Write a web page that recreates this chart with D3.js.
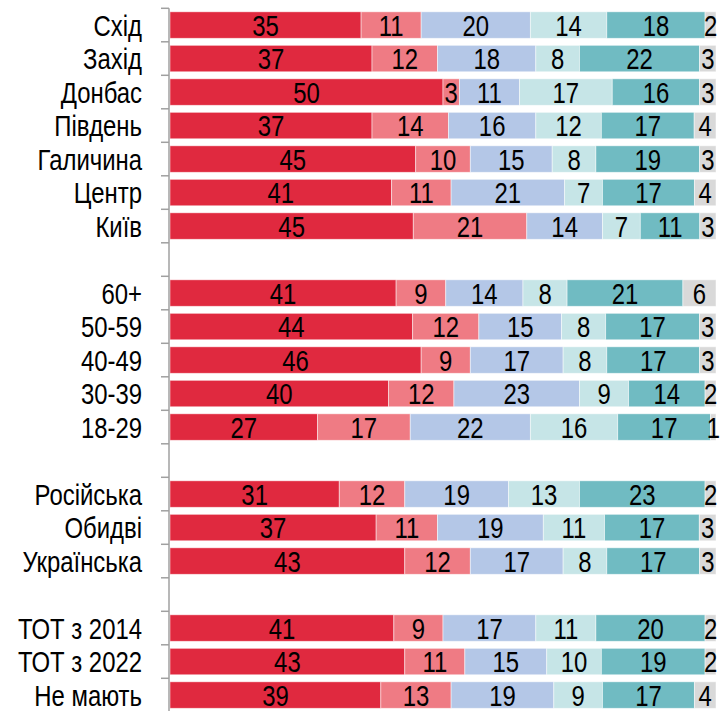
<!DOCTYPE html>
<html>
<head>
<meta charset="utf-8">
<script src="https://cdn.jsdelivr.net/npm/d3@7"></script>
<style>
  html, body { margin: 0; padding: 0; background: #fff; }
  svg { display: block; }
  text { font-family: "Liberation Sans", Arial, sans-serif; }
</style>
</head>
<body>
<svg id="chart" width="723" height="711"></svg>
<script>
// Row labels, top to bottom; null marks an empty spacer slot between groups
const categories = [
  "Схід", "Захід", "Донбас", "Південь", "Галичина", "Центр", "Київ",
  null,
  "60+", "50-59", "40-49", "30-39", "18-29",
  null,
  "Російська", "Обидві", "Українська",
  null,
  "ТОТ з 2014", "ТОТ з 2022", "Не мають"
];

// Series values (percent), one entry per labelled row
const seriesA = [35, 37, 50, 37, 45, 41, 45, 41, 44, 46, 40, 27, 31, 37, 43, 41, 43, 39];
const seriesB = [11, 12, 3, 14, 10, 11, 21, 9, 12, 9, 12, 17, 12, 11, 12, 9, 11, 13];
const seriesC = [20, 18, 11, 16, 15, 21, 14, 14, 15, 17, 23, 22, 19, 19, 17, 17, 15, 19];
const seriesD = [14, 8, 17, 12, 8, 7, 7, 8, 8, 8, 9, 16, 13, 11, 8, 11, 10, 9];
const seriesE = [18, 22, 16, 17, 19, 17, 11, 21, 17, 17, 14, 17, 23, 17, 17, 20, 19, 17];
const seriesF = [2, 3, 3, 4, 3, 4, 3, 6, 3, 3, 2, 1, 2, 3, 3, 2, 2, 4];

const series = [seriesA, seriesB, seriesC, seriesD, seriesE, seriesF];
const colors = ["#E0293F", "#EF7B84", "#B4C7E7", "#C6E5E7", "#70BBC2", "#D9D9D9"];

const svg = d3.select("#chart");
const W = 723, H = 711;
const plotLeft = 170, plotRight = 716;
const plotTop = 8.3, slotH = 33.5;
const squeeze = 0.81;   // horizontal compression giving a narrow typeface look

const slots = d3.range(categories.length);
const y = d3.scaleBand()
  .domain(slots)
  .range([plotTop, plotTop + slotH * slots.length])
  .paddingInner(0.21)
  .paddingOuter(0.105);

const x = d3.scaleLinear().domain([0, 1]).range([plotLeft, plotRight]);

// Build row records with stacked, normalised offsets
let vi = 0;
const rows = [];
categories.forEach((cat, i) => {
  if (cat === null) return;
  const vals = series.map(s => s[vi]);
  const total = d3.sum(vals);
  let acc = 0;
  const segs = vals.map((v, k) => {
    const s = { k, v, x0: acc / total, x1: (acc + v) / total };
    acc += v;
    return s;
  });
  rows.push({ cat, slot: i, segs });
  vi++;
});

const fs = 29.5;
const baseOff = fs * 0.36;

const g = svg.append("g");
const rowG = g.selectAll("g.row").data(rows).join("g")
  .attr("class", "row")
  .attr("transform", d => `translate(0,${y(d.slot)})`);

rowG.selectAll("rect").data(d => d.segs).join("rect")
  .attr("x", s => x(s.x0))
  .attr("width", s => x(s.x1) - x(s.x0))
  .attr("y", 0)
  .attr("height", y.bandwidth())
  .attr("fill", s => colors[s.k])
  .attr("stroke", "#fff")
  .attr("stroke-width", 0.8)
  .attr("stroke-opacity", 0.6);

rowG.selectAll("text.val").data(d => d.segs).join("text")
  .attr("class", "val")
  .attr("transform", s => `translate(${(x(s.x0) + x(s.x1)) / 2},${y.bandwidth() / 2 + baseOff}) scale(${squeeze},1)`)
  .attr("text-anchor", "middle")
  .attr("font-size", fs)
  .attr("fill", "#000")
  .text(s => s.v);

// Category labels
g.selectAll("text.cat").data(rows).join("text")
  .attr("class", "cat")
  .attr("transform", d => `translate(142,${y(d.slot) + y.bandwidth() / 2 + baseOff}) scale(${squeeze},1)`)
  .attr("text-anchor", "end")
  .attr("font-size", fs)
  .attr("fill", "#000")
  .text(d => d.cat);

// Vertical axis with ticks at every slot boundary
const axisX = 169;
const bounds = d3.range(slots.length + 1).map(i => plotTop + i * slotH);
const ax = svg.append("g").attr("stroke", "#A0A0A0").attr("stroke-width", 1.5);
ax.append("line")
  .attr("x1", axisX).attr("x2", axisX)
  .attr("y1", bounds[0]).attr("y2", H);
ax.selectAll("line.tick").data(bounds).join("line")
  .attr("class", "tick")
  .attr("x1", axisX - 8).attr("x2", axisX)
  .attr("y1", d => d).attr("y2", d => d);
</script>
</body>
</html>
